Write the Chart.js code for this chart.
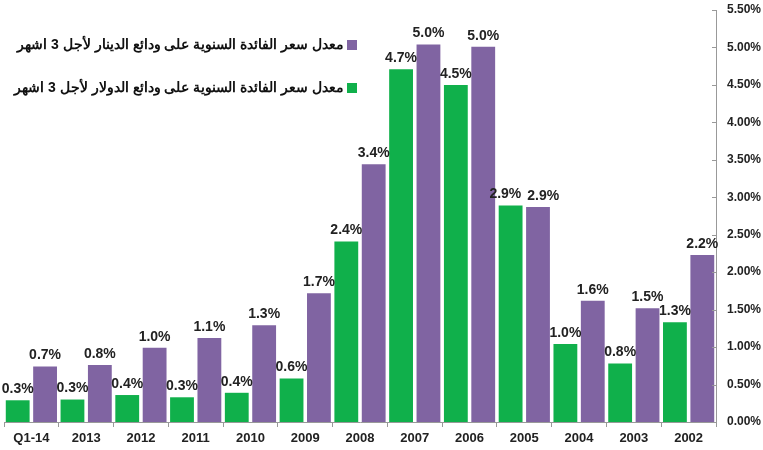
<!DOCTYPE html>
<html>
<head>
<meta charset="utf-8">
<script src="https://cdn.jsdelivr.net/npm/chart.js@4"></script>
<style>
  body { margin: 0; background: #fff; }
  #wrap { width: 763px; height: 450px; }
</style>
</head>
<body>
<div id="wrap"><canvas id="myChart"></canvas></div>
<script>
const categories = ['Q1-14', '2013', '2012', '2011', '2010', '2009', '2008', '2007', '2006', '2005', '2004', '2003', '2002']
const dollarRates = [0.29, 0.30, 0.36, 0.33, 0.39, 0.58, 2.41, 4.71, 4.50, 2.89, 1.04, 0.78, 1.33]
const dinarRates = [0.74, 0.76, 0.99, 1.12, 1.29, 1.72, 3.44, 5.04, 5.01, 2.87, 1.62, 1.52, 2.23]
const dollarLabel = 'معدل سعر الفائدة السنوية على ودائع الدولار لأجل 3 اشهر'
const dinarLabel = 'معدل سعر الفائدة السنوية على ودائع الدينار لأجل 3 اشهر'

const GREEN = '#10b04b'
const PURPLE = '#8064a2'
const FONT = '"Liberation Sans", Arial, sans-serif'

// value labels over the bars + legend inside the plot
const overlay = {
  id: 'overlay',
  afterDatasetsDraw(chart) {
    const { ctx, chartArea } = chart
    ctx.save()
    ctx.fillStyle = '#222'
    ctx.font = 'bold 14px ' + FONT
    ctx.textAlign = 'center'
    ctx.textBaseline = 'bottom'
    const greenBars = chart.getDatasetMeta(0).data
    const purpleBars = chart.getDatasetMeta(1).data
    categories.forEach((c, j) => {
      const g = greenBars[j], p = purpleBars[j]
      const gText = dollarRates[j].toFixed(1) + '%'
      const pText = dinarRates[j].toFixed(1) + '%'
      let gx = g.x, px = p.x
      // push the two labels apart when they sit at the same height
      if (Math.abs(g.y - p.y) < 14) {
        const need = (ctx.measureText(gText).width + ctx.measureText(pText).width) / 2 + 6
        const overlap = need - (px - gx)
        if (overlap > 0) { gx -= overlap / 2; px += overlap / 2 }
      }
      ctx.fillText(gText, gx, g.y - 4)
      ctx.fillText(pText, px, p.y - 4)
    })

    // legend (rtl, marker on the right)
    const items = [[dinarLabel, PURPLE, 45], [dollarLabel, GREEN, 88]]
    ctx.textAlign = 'right'
    ctx.textBaseline = 'middle'
    items.forEach(([text, color, y]) => {
      ctx.fillStyle = color
      ctx.fillRect(chartArea.left + 343, y - 5, 10, 10)
      ctx.fillStyle = '#111'
      ctx.fillText(text, chartArea.left + 340, y)
    })

    // inward tick marks on the right axis
    const ys = chart.scales.y
    ctx.strokeStyle = '#999'
    ctx.lineWidth = 1
    ys.ticks.forEach(t => {
      const py = Math.round(ys.getPixelForValue(t.value)) + 0.5
      ctx.beginPath()
      ctx.moveTo(chartArea.right - 4, py)
      ctx.lineTo(chartArea.right, py)
      ctx.stroke()
    })
    ctx.restore()
  }
}

const ctx = document.getElementById('myChart')
// eslint-disable-next-line no-unused-vars
const myChart = new Chart(ctx, {
  type: 'bar',
  data: {
    labels: categories,
    datasets: [{
      label: dollarLabel,
      data: dollarRates,
      backgroundColor: GREEN,
      barPercentage: 0.87,
      categoryPercentage: 1
    }, {
      label: dinarLabel,
      data: dinarRates,
      backgroundColor: PURPLE,
      barPercentage: 0.87,
      categoryPercentage: 1
    }]
  },
  options: {
    responsive: true,
    maintainAspectRatio: false,
    animation: false,
    layout: { padding: { left: 4, top: 10, right: 0, bottom: 0 } },
    plugins: {
      legend: { display: false },
      tooltip: { enabled: false }
    },
    scales: {
      x: {
        afterFit: scale => { scale.height = 28 },
        grid: { drawOnChartArea: false, tickLength: 5, color: '#999' },
        border: { color: '#999' },
        ticks: { color: '#222', font: { family: FONT, size: 13, weight: 'bold' }, padding: 4 }
      },
      y: {
        position: 'right',
        min: 0,
        max: 5.5,
        afterFit: scale => {
          scale.width = 47
          scale.paddingTop = 0
          scale.paddingBottom = 0
        },
        grid: { display: false, drawTicks: false },
        border: { display: true, color: '#999' },
        ticks: {
          stepSize: 0.5,
          color: '#222',
          padding: 11,
          font: { family: FONT, size: 12, weight: 'bold' },
          callback: v => v.toFixed(2) + '%'
        }
      }
    }
  },
  plugins: [overlay]
})
</script>
</body>
</html>
